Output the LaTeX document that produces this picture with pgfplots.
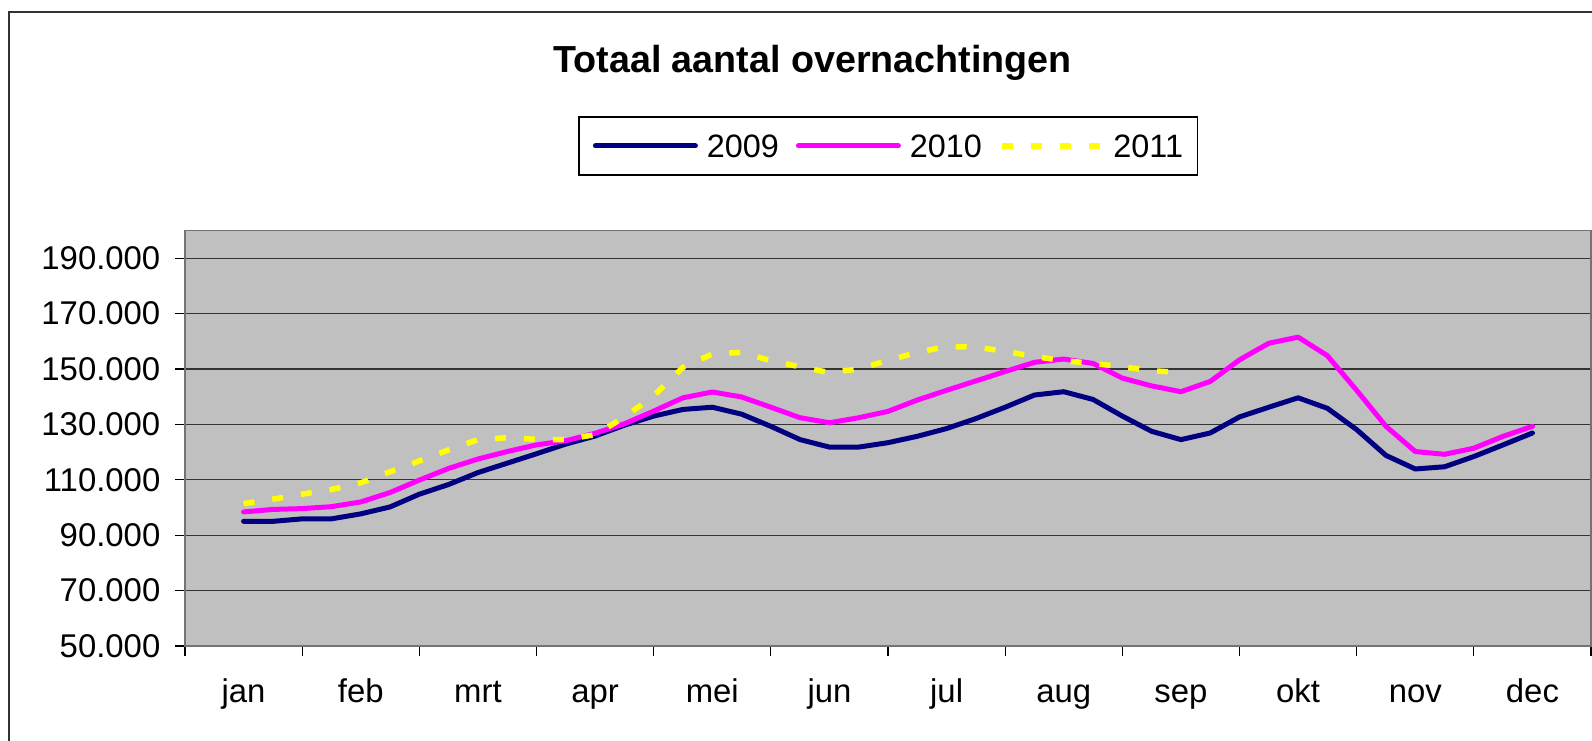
\documentclass[border=0pt]{standalone}
\usepackage{fontspec}
\setmainfont{Liberation Sans}
\usepackage{pgfplots}
\pgfplotsset{compat=1.18}
\definecolor{c09}{HTML}{000080}
\definecolor{c10}{HTML}{FF00FF}
\definecolor{c11}{HTML}{FFFF00}
\definecolor{plotbg}{HTML}{C0C0C0}
\begin{document}
\begin{tikzpicture}[x=1bp,y=1bp]
\useasboundingbox (0,0) rectangle (1592,741);
\draw[line width=2bp, black!80] (9,-5) -- (9,729) -- (1600,729);
\node[font=\fontsize{37.8}{45}\selectfont\bfseries, anchor=base] at (812.5,668) {Totaal aantal overnachtingen};
\begin{axis}[
  at={(185bp,95bp)}, anchor=south west,
  scale only axis, width=1406bp, height=415.5bp,
  xmin=0, xmax=12, ymin=50000, ymax=200000,
  scaled y ticks=false, tick pos=left,
  axis background/.style={fill=plotbg},
  axis line style={draw=black!55, line width=1.5bp},
  xtick={0,1,2,3,4,5,6,7,8,9,10,11,12},
  xticklabels={jan,feb,mrt,apr,mei,jun,jul,aug,sep,okt,nov,dec,{}},
  xticklabel style={xshift=58.6bp, yshift=-47bp, font=\fontsize{33}{40}\selectfont, inner sep=0pt, anchor=base},
  ytick={50000,70000,90000,110000,130000,150000,170000,190000},
  yticklabels={50.000,70.000,90.000,110.000,130.000,150.000,170.000,190.000},
  yticklabel style={font=\fontsize{33}{40}\selectfont, inner sep=0pt, anchor=east, xshift=-14.5bp},
  ymajorgrids, grid style={black!80, line width=1.2bp},
  tick align=outside, major tick length=10bp,
  tick style={black, line width=1.2bp},
  legend style={at={(0.5,1.2034)}, anchor=center, legend columns=3, draw=black, line width=1.2bp, fill=white,
    font=\fontsize{32.5}{39}\selectfont, inner xsep=14bp, inner ysep=17.5bp,
    nodes={inner sep=0bp, text height=23bp, text depth=0bp},
    /tikz/every odd column/.append style={column sep=9bp},
    /tikz/every even column/.append style={column sep=17bp}},
  legend image code/.code={\draw[#1] (0bp,0bp) -- (100bp,0bp);},
]
\addplot[c09, line width=5bp, line join=round, line cap=round] coordinates {
(0.5,95000)(0.75,95000)(1,95900)(1.25,95900)(1.5,97700)(1.75,100200)(2,104800)(2.25,108300)(2.5,112600)(2.75,116000)(3,119400)(3.25,122900)(3.5,125800)(3.75,129700)(4,133000)(4.25,135400)(4.5,136200)(4.75,133700)(5,129300)(5.25,124500)(5.5,121800)(5.75,121800)(6,123400)(6.25,125700)(6.5,128500)(6.75,132100)(7,136200)(7.25,140600)(7.5,141800)(7.75,139000)(8,133000)(8.25,127500)(8.5,124500)(8.75,126900)(9,132700)(9.25,136200)(9.5,139600)(9.75,135800)(10,128100)(10.25,118800)(10.5,113900)(10.75,114700)(11,118400)(11.25,122600)(11.5,126900)};
\addlegendentry{2009}
\addplot[c10, line width=5bp, line join=round, line cap=round] coordinates {
(0.5,98400)(0.75,99300)(1,99600)(1.25,100300)(1.5,102000)(1.75,105400)(2,109900)(2.25,114100)(2.5,117500)(2.75,120200)(3,122600)(3.25,124100)(3.5,126800)(3.75,130200)(4,134800)(4.25,139600)(4.5,141700)(4.75,139900)(5,136200)(5.25,132400)(5.5,130600)(5.75,132400)(6,134700)(6.25,138800)(6.5,142300)(6.75,145700)(7,149100)(7.25,152400)(7.5,153600)(7.75,152000)(8,146700)(8.25,143900)(8.5,141800)(8.75,145500)(9,153300)(9.25,159300)(9.5,161500)(9.75,154800)(10,142300)(10.25,129300)(10.5,120200)(10.75,119200)(11,121400)(11.25,125700)(11.5,129300)};
\addlegendentry{2010}
\addplot[c11, line width=5.5bp, dash pattern=on 11bp off 18bp] coordinates {
(0.5,101400)(0.75,103000)(1,104800)(1.25,106500)(1.5,108900)(1.75,112900)(2,116800)(2.25,120800)(2.5,124500)(2.75,125200)(3,124600)(3.25,124500)(3.5,126300)(3.75,132600)(4,140300)(4.25,150600)(4.5,155400)(4.75,156000)(5,153000)(5.25,150800)(5.5,148700)(5.75,150000)(6,153100)(6.25,156000)(6.5,158100)(6.75,157900)(7,156400)(7.25,154500)(7.5,153000)(7.75,152000)(8,150800)(8.25,149400)(8.5,148700)};
\addlegendentry{2011}
\end{axis}
\end{tikzpicture}
\end{document}
